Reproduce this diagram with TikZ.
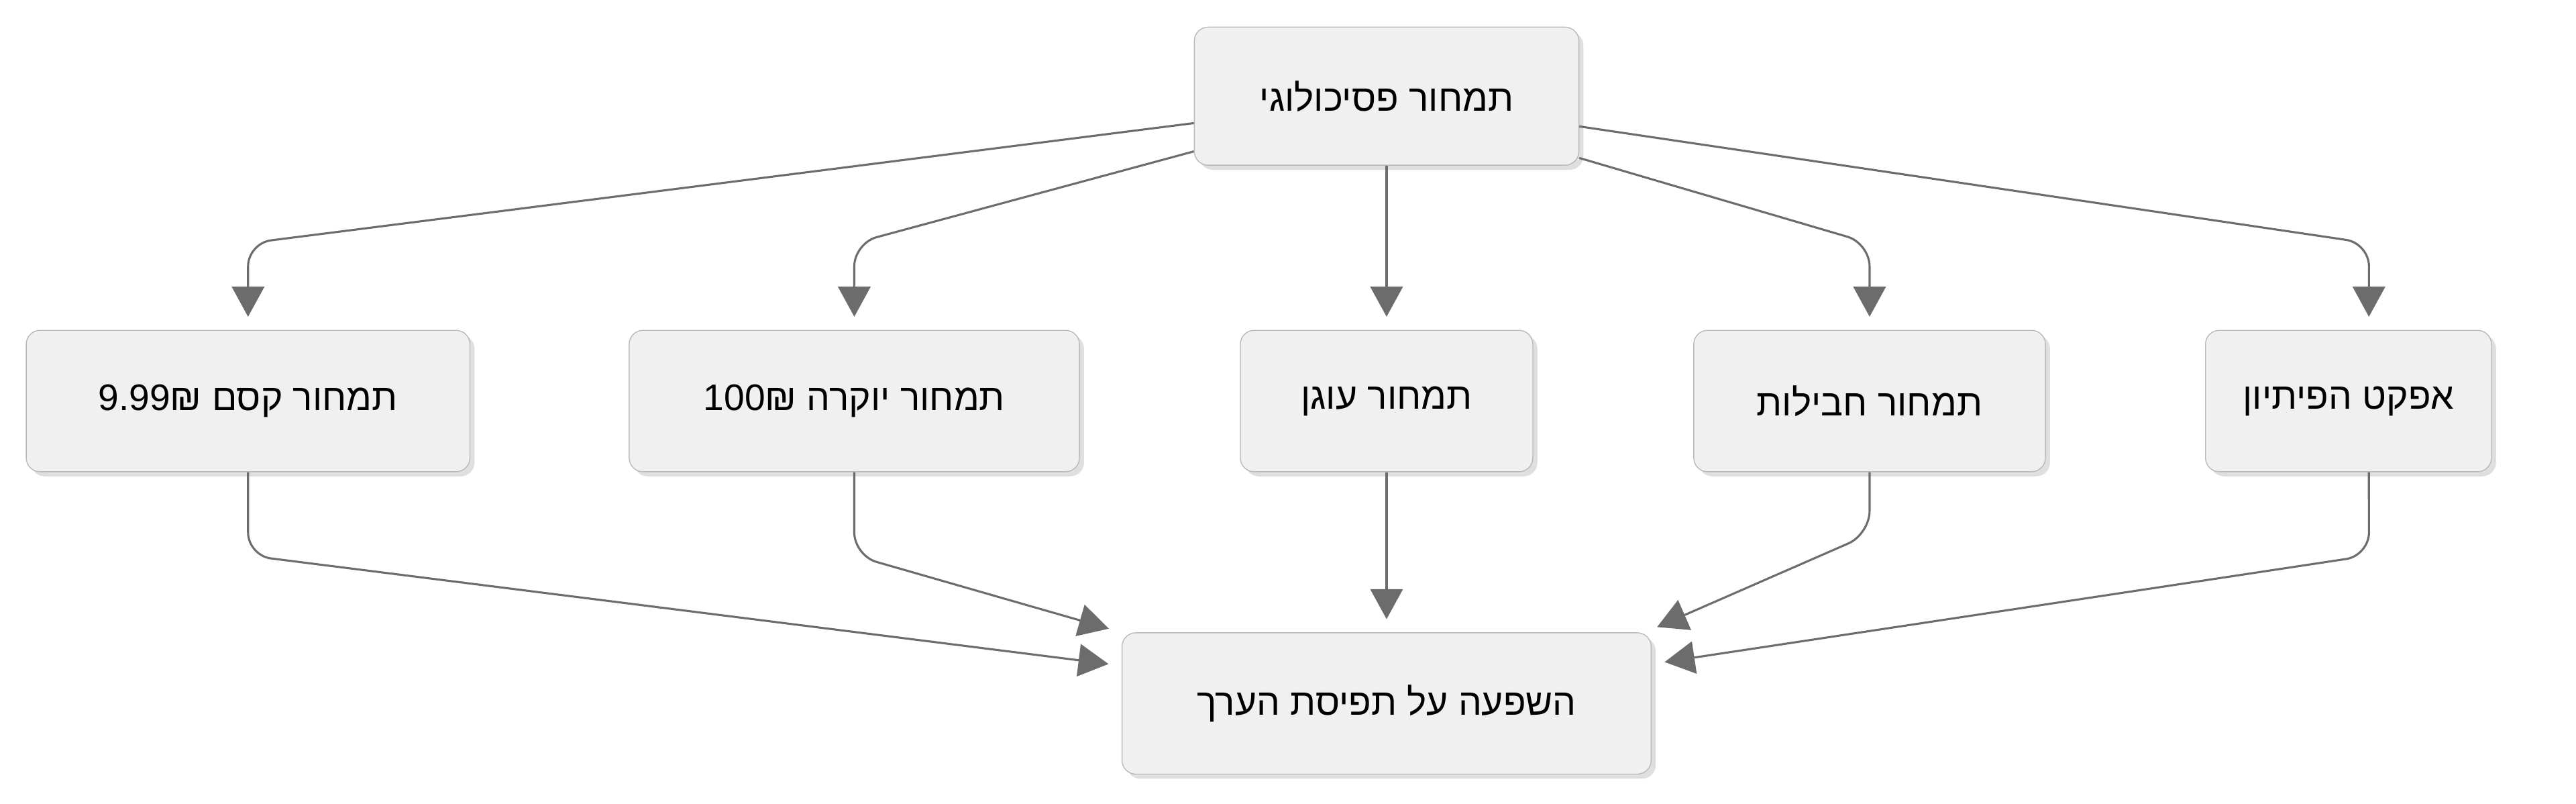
\documentclass[tikz,border=0pt]{standalone}
\usepackage{fontspec}
\setmainfont[Script=Hebrew]{Liberation Sans}
\TeXXeTstate=1
\usetikzlibrary{arrows.meta,shadows}

\begin{document}
\begin{tikzpicture}[x=0.025cm,y=-0.025cm,
  box/.style={draw=gray!55,fill=gray!12,rounded corners=6pt,minimum height=2.15cm,
    font=\fontsize{16}{18}\selectfont,drop shadow={opacity=0.25,shadow xshift=2pt,shadow yshift=-2pt}},
  arr/.style={draw=gray!85!black,line width=0.9pt,rounded corners=0.35cm,
    -{Triangle[width=14pt,length=13pt]},shorten >=0.2cm}]
\useasboundingbox (0,0) rectangle (1568,489);

% nodes
\node[box,minimum width=5.85cm,minimum height=2.1cm] (top) at (844,58.5) {\beginR תמחור פסיכולוגי\endR};
\node[box,minimum width=6.75cm] (magic) at (151,244) {\beginR תמחור קסם \beginL9.99₪\endL\endR};
\node[box,minimum width=6.85cm] (lux) at (520,244) {\beginR תמחור יוקרה \beginL100₪\endL\endR};
\node[box,minimum width=4.45cm] (anchor) at (844,244) {\beginR תמחור עוגן\endR};
\node[box,minimum width=5.35cm] (bundle) at (1138,244) {\beginR תמחור חבילות\endR};
\node[box,minimum width=4.35cm] (decoy) at (1429.5,244) {\beginR אפקט הפיתיון\endR};
\node[box,minimum width=8.05cm] (value) at (844,428) {\beginR השפעה על תפיסת הערך\endR};

% top to middle row
\draw[arr] ([yshift=-0.41cm]top.west) -- (151,148) -- (magic.north);
\draw[arr] ([yshift=-0.84cm]top.west) -- (520,148) -- (lux.north);
\draw[arr] (top.south) -- (anchor.north);
\draw[arr] ([yshift=-0.94cm]top.east) -- (1138,148) -- (bundle.north);
\draw[arr] ([yshift=-0.46cm]top.east) -- (1442,148) -- ([xshift=0.31cm]decoy.north);

% middle row to bottom
\draw[arr] (magic.south) -- (151,338) -- ([yshift=0.575cm]value.west);
\draw[arr] (lux.south) -- (520,338) -- (value.north west);
\draw[arr] (anchor.south) -- (value.north);
\draw[arr] (bundle.south) -- (1138,325) -- ([xshift=-0.1cm]value.north east);
\draw[arr] ([xshift=0.31cm]decoy.south) -- (1442,338) -- ([yshift=0.6cm]value.east);
\end{tikzpicture}
\end{document}
